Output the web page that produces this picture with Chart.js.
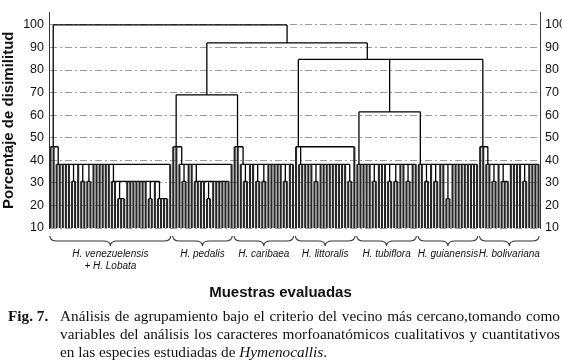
<!DOCTYPE html>
<html lang="es">
<head>
<meta charset="utf-8">
<script src="https://cdn.jsdelivr.net/npm/chart.js@4.4.1/dist/chart.umd.min.js"></script>
<style>
  html, body { margin: 0; padding: 0; background: #fff; }
  #marco { position: relative; width: 562px; height: 364px; overflow: hidden; }
  #dendrograma { position: absolute; left: 0; top: 0; }
  .pie { position: absolute; font-family: "Liberation Serif", "Times New Roman", serif; font-size: 15px; line-height: 18px; color: #111; white-space: nowrap; }
  #fig { left: 8px; top: 307px; font-weight: bold; }
  #texto { left: 60px; top: 307px; width: 500px; }
  #texto .just { display: block; text-align: justify; text-align-last: justify; }
</style>
</head>
<body>
<div id="marco">
  <canvas id="dendrograma" width="562" height="364"></canvas>
  <div class="pie" id="fig">Fig. 7.</div>
  <div class="pie" id="texto">
    <span class="just">Análisis de agrupamiento bajo el criterio del vecino más cercano,tomando como</span>
    <span class="just">variables del análisis los caracteres morfoanatómicos cualitativos y cuantitativos</span>
    <span>en las especies estudiadas de <i>Hymenocallis</i>.</span>
  </div>
</div>
<script>
// Especies (grupos de muestras) en el orden del eje horizontal
const grupos = [['H. venezuelensis', '+ H. Lobata'], ['H. pedalis'], ['H. caribaea'], ['H. littoralis'],
                ['H. tubiflora'], ['H. guianensis'], ['H. bolivariana']];
const muestrasPorGrupo = [40, 20, 20, 20, 20, 20, 20];

// Marcas del eje de disimilitud
const marcasY = [10, 20, 30, 40, 50, 60, 70, 80, 90, 100];

// Uniones del árbol: [porcentaje de disimilitud, primera muestra, última muestra]
const uniones = [
  [100, 0, 159],
  [92, 40, 159],
  [69, 40, 79],
  [84.7, 80, 159],
  [84.7, 100, 159],
  [61.5, 100, 139],
  // H. venezuelensis + H. lobata
  [46, 0, 39], [46, 1, 39], [38.2, 2, 39],
  [30.7, 7, 8], [30.7, 10, 11], [30.7, 12, 13], [30.7, 20, 38],
  [23, 22, 24], [23, 32, 33], [23, 35, 38],
  // H. pedalis
  [46, 40, 59], [46, 41, 59], [38.2, 42, 59],
  [30.7, 43, 44], [30.7, 47, 58], [23, 51, 52],
  // H. caribaea
  [46, 60, 79], [46, 61, 79], [38.2, 62, 79],
  [30.7, 63, 64], [30.7, 67, 68], [30.7, 69, 70], [30.7, 76, 77],
  // H. littoralis
  [46, 80, 99], [38.2, 81, 98], [30.7, 86, 87], [30.7, 97, 98],
  // H. tubiflora
  [38.2, 100, 119], [30.7, 105, 106], [30.7, 110, 111], [30.7, 112, 113], [30.7, 116, 117],
  // H. guianensis
  [38.2, 120, 139], [30.7, 122, 123], [30.7, 125, 126], [23, 129, 130],
  // H. bolivariana
  [46, 140, 159], [46, 141, 159], [38.2, 142, 159],
  [30.7, 144, 145], [30.7, 147, 149], [30.7, 154, 155],
];

const tituloY = 'Porcentaje de disimilitud';
const tituloX = 'Muestras evaluadas';

const totalMuestras = muestrasPorGrupo.reduce((a, b) => a + b, 0);
const yMin = 10;

// Ajusta el tamaño del pie para que las líneas justificadas casi llenen su ancho
(function ajustarPie() {
  const medidor = document.createElement('canvas').getContext('2d');
  let tam = 16;
  document.querySelectorAll('#texto .just').forEach(linea => {
    medidor.font = '16px "Liberation Serif"';
    const ancho = medidor.measureText(linea.textContent).width;
    tam = Math.min(tam, 16 * 492 / ancho);
  });
  document.querySelectorAll('.pie').forEach(el => { el.style.fontSize = tam.toFixed(2) + 'px'; });
})();

// Construye el árbol: cada unión cuelga de la unión más pequeña que la contiene
const nodos = uniones.map(([h, a, b]) => ({ h, a, b, hijos: [] }));
let raiz = null;
nodos.forEach(n => {
  let padre = null;
  nodos.forEach(m => {
    if (m !== n && m.a <= n.a && n.b <= m.b && (m.b - m.a) > (n.b - n.a)) {
      if (!padre || (m.b - m.a) < (padre.b - padre.a)) padre = m;
    }
  });
  if (padre) padre.hijos.push(n); else raiz = n;
});
nodos.forEach(n => {
  const cubiertas = new Set();
  n.hijos.forEach(c => { for (let i = c.a; i <= c.b; i++) cubiertas.add(i); });
  for (let i = n.a; i <= n.b; i++) if (!cubiertas.has(i)) n.hijos.push(i);
  n.hijos.sort((p, q) => (typeof p === 'number' ? p : p.a) - (typeof q === 'number' ? q : q.a));
});

// Recorre el árbol y genera los tramos (null separa cada tramo)
const lineasMuestras = [];
const lineasUniones = [];
function trazar(nodo) {
  const xs = nodo.hijos.map(hijo => {
    if (typeof hijo === 'number') {
      lineasMuestras.push({ x: hijo, y: yMin }, { x: hijo, y: nodo.h }, { x: hijo, y: null });
      return hijo;
    }
    const xh = trazar(hijo);
    lineasUniones.push({ x: xh, y: hijo.h }, { x: xh, y: nodo.h }, { x: xh, y: null });
    return xh;
  });
  lineasUniones.push({ x: xs[0], y: nodo.h }, { x: xs[xs.length - 1], y: nodo.h }, { x: xs[0], y: null });
  return (xs[0] + xs[1]) / 2;
}
trazar(raiz);

// Llaves y nombres de las especies debajo del gráfico
function llave(ctx, x0, x1, y, alto) {
  const xm = (x0 + x1) / 2, r = 7, ym = y + alto / 2;
  ctx.beginPath();
  ctx.moveTo(x0, y);
  ctx.quadraticCurveTo(x0, ym, x0 + r, ym);
  ctx.lineTo(xm - r, ym);
  ctx.quadraticCurveTo(xm, ym, xm, y + alto);
  ctx.quadraticCurveTo(xm, ym, xm + r, ym);
  ctx.lineTo(x1 - r, ym);
  ctx.quadraticCurveTo(x1, ym, x1, y);
  ctx.stroke();
}

const rotulosGrupos = {
  id: 'rotulosGrupos',
  afterDraw(chart) {
    const { ctx, scales: { x } } = chart;
    ctx.save();
    ctx.strokeStyle = '#333';
    ctx.lineWidth = 1.1;
    ctx.fillStyle = '#111';
    ctx.textAlign = 'center';
    ctx.textBaseline = 'middle';
    let inicio = 0;
    muestrasPorGrupo.forEach((n, g) => {
      const x0 = x.getPixelForValue(inicio - 0.2);
      const x1 = x.getPixelForValue(inicio + n - 0.8);
      llave(ctx, x0, x1, 236, 10);
      ctx.font = 'italic 10px "Liberation Sans", Arial, sans-serif';
      grupos[g].forEach((linea, k) => ctx.fillText(linea, (x0 + x1) / 2, 254 + k * 12.5));
      inicio += n;
    });
    ctx.font = 'bold 15px "Liberation Sans", Arial, sans-serif';
    ctx.fillText(tituloX, (chart.chartArea.left + chart.chartArea.right) / 2 - 14, 293);
    ctx.restore();
  }
};

Chart.defaults.font.family = '"Liberation Sans", Arial, sans-serif';
Chart.defaults.color = '#111';

const ctxDendrograma = document.getElementById('dendrograma').getContext('2d');
new Chart(ctxDendrograma, {
  type: 'scatter',
  data: {
    datasets: [
      { data: lineasMuestras, showLine: true, borderColor: '#262626', borderWidth: 2.1, pointRadius: 0, spanGaps: false },
      { data: lineasUniones, showLine: true, borderColor: '#000', borderWidth: 1.3, pointRadius: 0, spanGaps: false },
    ],
  },
  options: {
    responsive: false,
    animation: false,
    layout: { padding: { top: 3, bottom: 136, left: 0, right: 0 } },
    plugins: { legend: { display: false }, tooltip: { enabled: false } },
    scales: {
      x: { type: 'linear', display: false, min: -0.5, max: totalMuestras - 0.5 },
      y: {
        position: 'left',
        min: yMin,
        max: 105.5,
        afterBuildTicks: (eje) => { eje.ticks = marcasY.map(v => ({ value: v })); },
        afterFit: (eje) => { eje.width = 49; },
        grid: { color: '#9a9a9a', lineWidth: 1, drawTicks: false },
        border: { display: true, color: '#333', width: 1, dash: [7, 3, 2, 3] },
        ticks: { padding: 5, font: { size: 12.5 }, color: '#111' },
        title: { display: true, text: tituloY, font: { size: 15, weight: 'bold' }, padding: 0, color: '#111' },
      },
      y2: {
        position: 'right',
        min: yMin,
        max: 105.5,
        afterBuildTicks: (eje) => { eje.ticks = marcasY.map(v => ({ value: v })); },
        afterFit: (eje) => { eje.width = 22; },
        grid: { display: false, drawTicks: false },
        border: { display: true, color: '#333', width: 1 },
        ticks: { padding: 5, font: { size: 12.5 }, color: '#111' },
      },
    },
  },
  plugins: [rotulosGrupos],
});
</script>
</body>
</html>
